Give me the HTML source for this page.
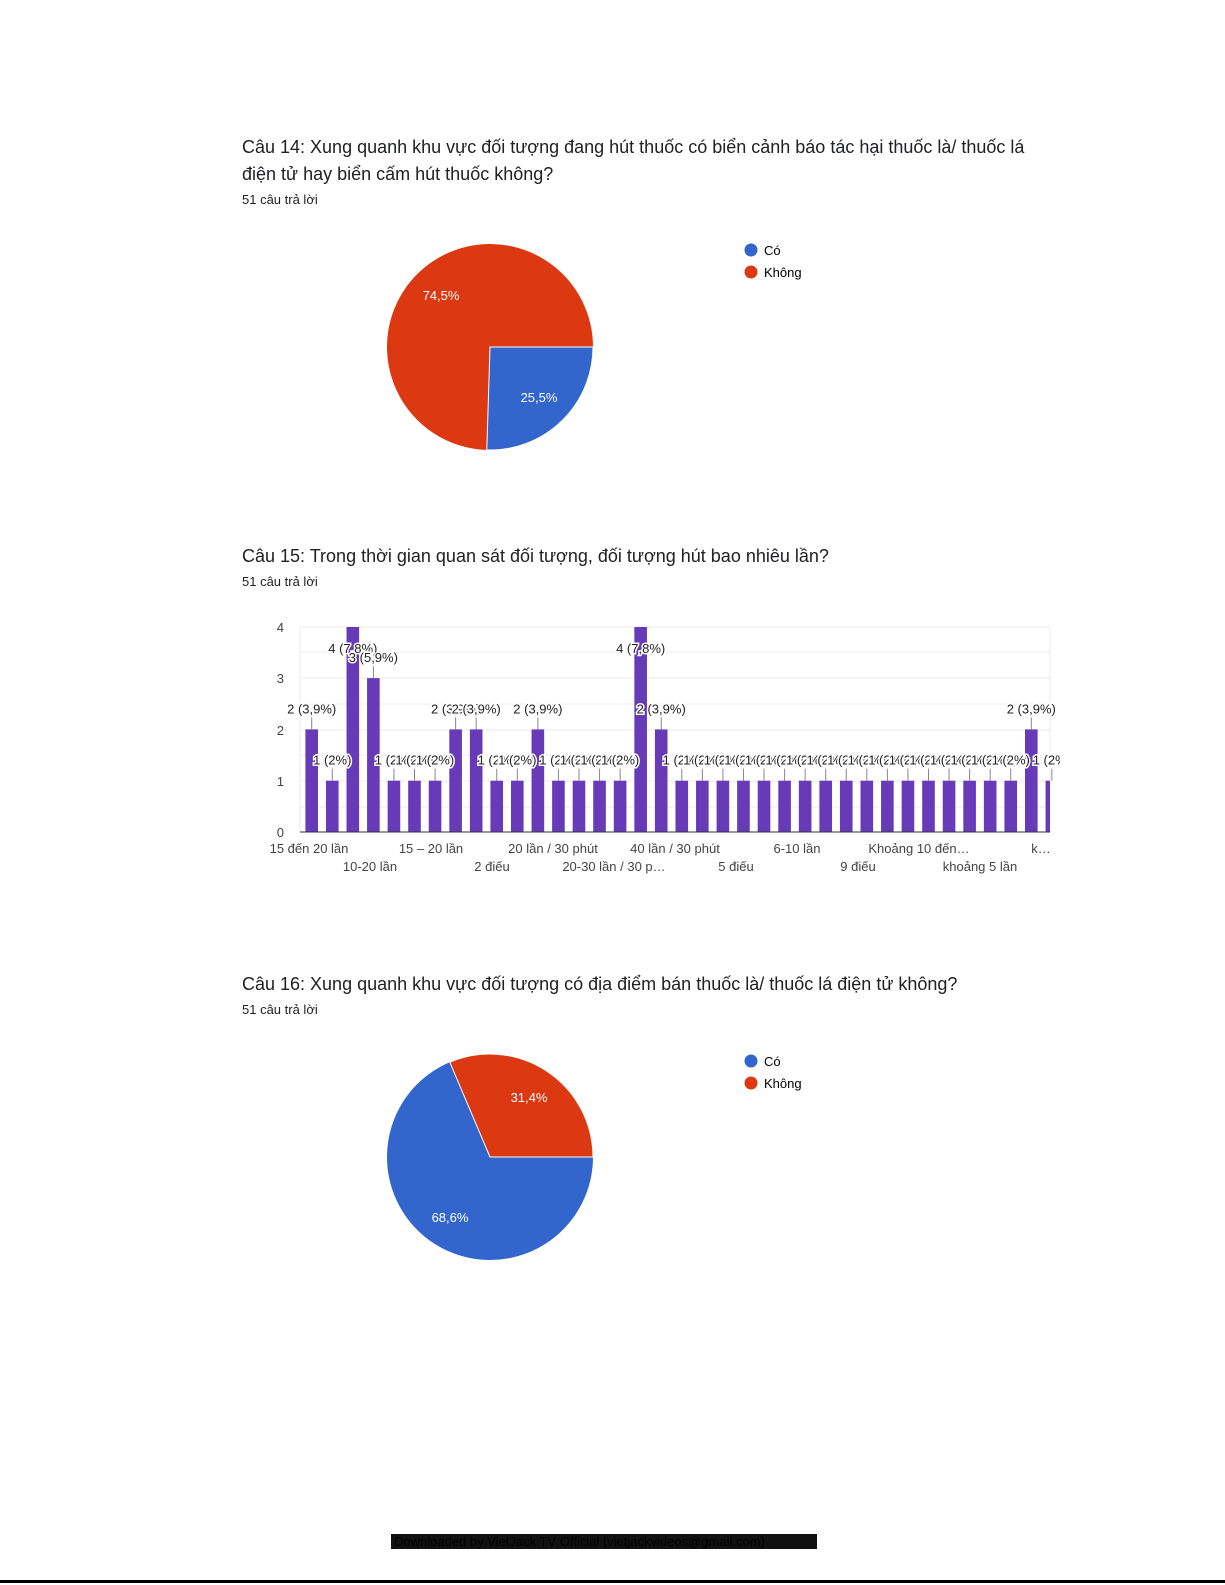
<!DOCTYPE html>
<html><head><meta charset="utf-8"><style>
body{margin:0;background:#fff;}
.pg{position:relative;width:1225px;height:1585px;overflow:hidden;font-family:"Liberation Sans",sans-serif;color:#202124;}
.t{position:absolute;left:242px;font-size:18px;line-height:27px;}
.s{position:absolute;left:242px;font-size:13px;}
</style></head><body><div class="pg">
<div class="t" style="top:134px">Câu 14: Xung quanh khu vực đối tượng đang hút thuốc có biển cảnh báo tác hại thuốc là/ thuốc lá<br>điện tử hay biển cấm hút thuốc không?</div>
<div class="s" style="top:192px">51 câu trả lời</div>
<div class="t" style="top:543px">Câu 15: Trong thời gian quan sát đối tượng, đối tượng hút bao nhiêu lần?</div>
<div class="s" style="top:574px">51 câu trả lời</div>
<div class="t" style="top:971px">Câu 16: Xung quanh khu vực đối tượng có địa điểm bán thuốc là/ thuốc lá điện tử không?</div>
<div class="s" style="top:1002px">51 câu trả lời</div>
<svg width="1225" height="1585" style="position:absolute;left:0;top:0" font-family="Liberation Sans, sans-serif">
<circle cx="490" cy="347" r="103" fill="#dc3912"/>
<path d="M490 347 L593 347 A103 103 0 0 1 486.8 450 Z" fill="#3366cc" stroke="#fff" stroke-width="1"/>
<line x1="490" y1="347" x2="593" y2="347" stroke="#fff"/>
<text x="441" y="300" font-size="13" fill="#fff" text-anchor="middle">74,5%</text>
<text x="539" y="402" font-size="13" fill="#fff" text-anchor="middle">25,5%</text>
<circle cx="751" cy="250" r="6.5" fill="#3366cc"/><text x="764" y="255" font-size="13">Có</text>
<circle cx="751" cy="272" r="6.5" fill="#dc3912"/><text x="764" y="277" font-size="13">Không</text>
<circle cx="490" cy="1157" r="103" fill="#3366cc"/>
<path d="M490 1157 L449.8 1062.2 A103 103 0 0 1 593 1157 Z" fill="#dc3912" stroke="#fff" stroke-width="1"/>
<text x="529" y="1102" font-size="13" fill="#fff" text-anchor="middle">31,4%</text>
<text x="450" y="1222" font-size="13" fill="#fff" text-anchor="middle">68,6%</text>
<circle cx="751" cy="1061" r="6.5" fill="#3366cc"/><text x="764" y="1066" font-size="13">Có</text>
<circle cx="751" cy="1083" r="6.5" fill="#dc3912"/><text x="764" y="1088" font-size="13">Không</text>
<g stroke="#ebebeb" stroke-width="1">
<line x1="300" y1="627" x2="1050" y2="627"/><line x1="300" y1="652" x2="1050" y2="652"/>
<line x1="300" y1="678" x2="1050" y2="678"/><line x1="300" y1="704" x2="1050" y2="704"/>
<line x1="300" y1="730" x2="1050" y2="730"/><line x1="300" y1="755" x2="1050" y2="755"/>
<line x1="300" y1="781" x2="1050" y2="781"/><line x1="300" y1="807" x2="1050" y2="807"/>
<line x1="300" y1="627" x2="300" y2="832"/><line x1="1050" y1="627" x2="1050" y2="832"/>
</g>
<g font-size="13" fill="#444" text-anchor="end">
<text x="284" y="632">4</text><text x="284" y="683">3</text><text x="284" y="735">2</text><text x="284" y="786">1</text><text x="284" y="837">0</text>
</g>
<defs><clipPath id="c"><rect x="296" y="627" width="754" height="210"/></clipPath>
<clipPath id="c2"><rect x="270" y="627" width="790" height="210"/></clipPath></defs>
<g id="bars" fill="#673ab7" clip-path="url(#c)"></g>
<line x1="300" y1="832" x2="1050" y2="832" stroke="#333"/>
<g id="lbl" font-size="13" fill="#222" clip-path="url(#c2)"></g>
<g font-size="13" fill="#444" text-anchor="middle">
<text x="309" y="853">15 đến 20 lần</text><text x="431" y="853">15 – 20 lần</text><text x="553" y="853">20 lần / 30 phút</text><text x="675" y="853">40 lần / 30 phút</text><text x="797" y="853">6-10 lần</text><text x="919" y="853">Khoảng 10 đến…</text><text x="1041" y="853">k…</text>
<text x="370" y="871">10-20 lần</text><text x="492" y="871">2 điếu</text><text x="614" y="871">20-30 lần / 30 p…</text><text x="736" y="871">5 điếu</text><text x="858" y="871">9 điếu</text><text x="980" y="871">khoảng 5 lần</text>
</g>
<rect x="391" y="1534" width="426" height="15" fill="#111"/>
<text x="394" y="1546" font-size="13" fill="#000">Downloaded by VietJack TV Official (vietjackvideos@gmail.com)</text>
<rect x="0" y="1580" width="1225" height="3" fill="#000"/>
</svg>
<script>
var v=[2,1,4,3,1,1,1,2,2,1,1,2,1,1,1,1,4,2,1,1,1,1,1,1,1,1,1,1,1,1,1,1,1,1,1,2,1];
var b=document.getElementById('bars'),l=document.getElementById('lbl'),h='',t='';
v.forEach(function(x,i){var cx=311.7+i*20.56,y=832-x*51.3;
h+='<rect x="'+(cx-6.3)+'" y="'+y+'" width="12.6" height="'+(832-y)+'"/>';
var s=x==4?'4 (7,8%)':x==3?'3 (5,9%)':x==2?'2 (3,9%)':'1 (2%)';
if(x==4){t+='<text x="'+cx+'" y="653" text-anchor="middle" stroke="#fff" stroke-width="3" paint-order="stroke">'+s+'</text>';}
else{t+='<line x1="'+cx+'" y1="'+(y-12)+'" x2="'+cx+'" y2="'+y+'" stroke="#888"/>';
t+='<text x="'+cx+'" y="'+(y-16)+'" text-anchor="middle" stroke="#fff" stroke-width="3" paint-order="stroke">'+s+'</text>';}});
b.innerHTML=h;l.innerHTML=t;
</script>
</div></body></html>
